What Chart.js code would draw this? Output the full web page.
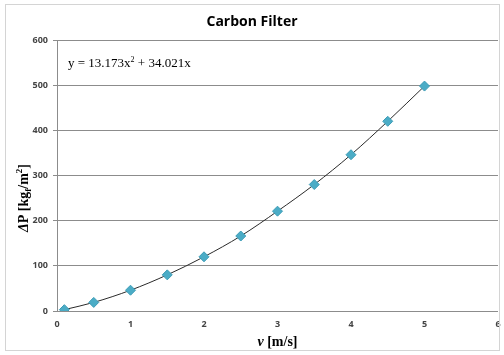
<!DOCTYPE html>
<html>
<head>
<meta charset="utf-8">
<script src="https://cdn.jsdelivr.net/npm/chart.js@4"></script>
<style>
  html, body { margin: 0; padding: 0; background: #fff; }
  #wrap { width: 504px; height: 355px; position: relative; }
</style>
</head>
<body>
<div id="wrap"><canvas id="myChart" width="504" height="355"></canvas></div>
<script>
var velocity = [0.1, 0.5, 1, 1.5, 2, 2.5, 3, 3.5, 4, 4.5, 5];
var pressure = [3, 19, 46, 80, 120, 166, 221, 280, 346, 420, 498];
var xTicks = [0, 1, 2, 3, 4, 5, 6];
var yTicks = [0, 100, 200, 300, 400, 500, 600];

var points = velocity.map(function (v, i) { return { x: v, y: pressure[i] }; });

// title, axis titles, trendline label and frame
var textPlugin = {
  id: 'texts',
  afterDraw: function (chart) {
    var c = chart.ctx;
    var area = chart.chartArea;
    c.save();
    // outer frame
    c.strokeStyle = '#d4d4d4';
    c.lineWidth = 1;
    c.strokeRect(5.5, 4.5, 494, 346);

    // title
    c.fillStyle = '#000';
    c.textAlign = 'center';
    c.textBaseline = 'middle';
    c.font = 'bold 14px "Open Sans", Lato, sans-serif';
    c.fillText('Carbon Filter', 252, 22);

    // x title: v [m/s]
    var serif = '"Liberation Serif", "DejaVu Serif", serif';
    c.textAlign = 'left';
    c.textBaseline = 'alphabetic';
    var p1 = 'v', p2 = ' [m/s]';
    c.font = 'italic bold 14px ' + serif;
    var w1 = c.measureText(p1).width;
    c.font = 'bold 14px ' + serif;
    var w2 = c.measureText(p2).width;
    var x0 = (area.left + area.right) / 2 - (w1 + w2) / 2;
    c.font = 'italic bold 14px ' + serif;
    c.fillText(p1, x0, 346);
    c.font = 'bold 14px ' + serif;
    c.fillText(p2, x0 + w1, 346);

    // y title: ΔP [kg_f/m^2]
    var parts = [
      { t: '\u0394', f: 'italic bold 14px ', dy: 0 },
      { t: 'P [kg', f: 'bold 14px ', dy: 0 },
      { t: 'f', f: 'bold 9px ', dy: 3 },
      { t: '/m', f: 'bold 14px ', dy: 0 },
      { t: '2', f: 'bold 9px ', dy: -6 },
      { t: ']', f: 'bold 14px ', dy: 0 }
    ];
    var total = 0;
    parts.forEach(function (p) { c.font = p.f + serif; p.w = c.measureText(p.t).width; total += p.w; });
    c.translate(28, 198);
    c.rotate(-Math.PI / 2);
    var px = -total / 2;
    parts.forEach(function (p) {
      c.font = p.f + serif;
      c.fillText(p.t, px, 0 + p.dy);
      px += p.w;
    });
    c.setTransform(1, 0, 0, 1, 0, 0);

    // trendline equation
    var eq = [
      { t: 'y = 13.173x', f: '13px ', dy: 0 },
      { t: '2', f: '8px ', dy: -5 },
      { t: ' + 34.021x', f: '13px ', dy: 0 }
    ];
    var ex = 68, ey = 67;
    eq.forEach(function (p) {
      c.font = p.f + serif;
      c.fillText(p.t, ex, ey + p.dy);
      ex += c.measureText(p.t).width;
    });
    c.restore();
  }
};

var ctx = document.getElementById('myChart');
var myChart = new Chart(ctx, {
  type: 'scatter',
  data: {
    datasets: [{
      label: 'Carbon Filter',
      data: points,
      showLine: true,
      cubicInterpolationMode: 'monotone',
      borderColor: '#2a2a2a',
      borderWidth: 1,
      pointStyle: 'rectRot',
      pointRadius: 5,
      pointHoverRadius: 5,
      pointBackgroundColor: '#4bacc6',
      pointBorderColor: '#3d9cb6',
      pointBorderWidth: 1
    }]
  },
  options: {
    responsive: false,
    animation: false,
    layout: { autoPadding: false, padding: { top: 40, right: 6, left: 0, bottom: 0 } },
    plugins: {
      legend: { display: false },
      title: { display: false },
      tooltip: { enabled: false }
    },
    scales: {
      x: {
        type: 'linear',
        min: 0,
        max: 6,
        afterBuildTicks: function (s) { s.ticks = xTicks.map(function (v) { return { value: v }; }); },
        afterFit: function (s) { s.height = 44; s.paddingRight = 0; s.paddingLeft = 0; },
        grid: { display: false, drawTicks: false },
        border: { display: false },
        ticks: {
          padding: 8,
          color: '#444',
          font: { family: '"Open Sans", Lato, sans-serif', size: 9, weight: 'bold' },
          maxRotation: 0
        }
      },
      y: {
        min: 0,
        max: 600,
        afterBuildTicks: function (s) { s.ticks = yTicks.map(function (v) { return { value: v }; }); },
        afterFit: function (s) { s.width = 57; s.paddingTop = 0; s.paddingBottom = 0; },
        grid: { color: '#8c8c8c', lineWidth: 1, tickLength: 4, drawTicks: true },
        border: { display: true, color: '#8c8c8c', width: 1 },
        ticks: {
          padding: 5,
          color: '#444',
          font: { family: '"Open Sans", Lato, sans-serif', size: 9, weight: 'bold' }
        }
      }
    }
  },
  plugins: [textPlugin]
});
</script>
</body>
</html>
